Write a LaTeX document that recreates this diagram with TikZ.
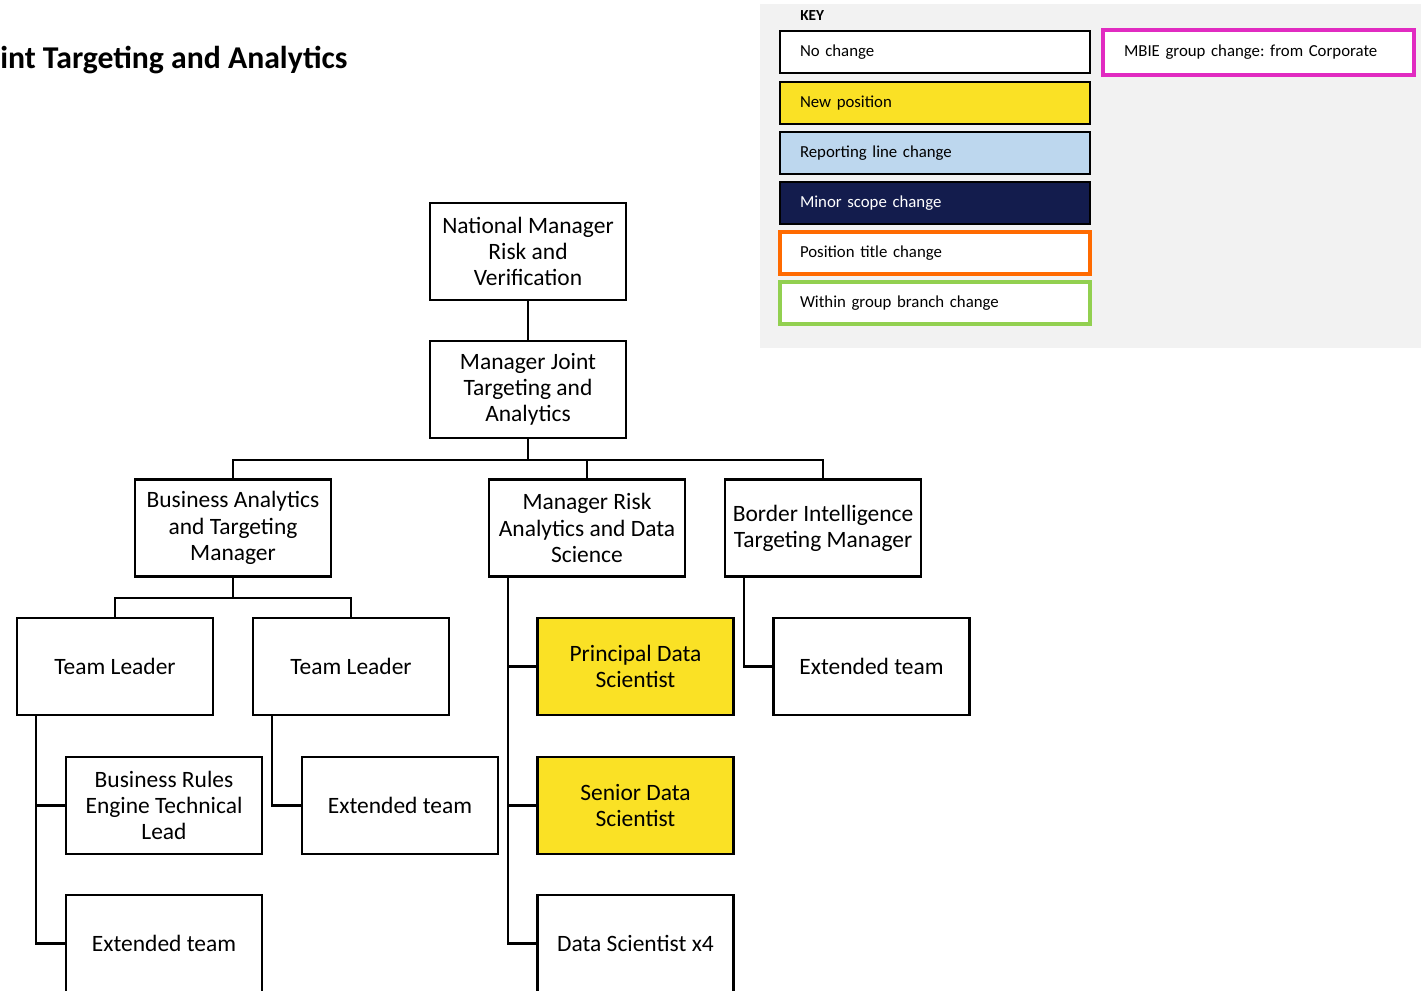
\documentclass[tikz,border=0pt]{standalone}
\usepackage{fontspec}
\setmainfont{Carlito}
\frenchspacing
\definecolor{newpos}{HTML}{FAE125}
\definecolor{repline}{HTML}{BDD7EE}
\definecolor{minorsc}{HTML}{131C4D}
\definecolor{titlech}{HTML}{FF6A00}
\definecolor{branchch}{HTML}{92D050}
\definecolor{mbiech}{HTML}{E12BC1}
\definecolor{keybg}{HTML}{F2F2F2}
\begin{document}
\begin{tikzpicture}[x=0.75pt,y=-0.75pt,
  posbox/.style={draw=black, line width=1.6pt, fill=white, minimum width=147pt,
    minimum height=72.75pt, align=center, inner sep=2pt,
    font=\fontsize{17.6}{19.6}\selectfont},
  newbox/.style={posbox, fill=newpos},
  link/.style={line width=1.6pt, draw=black},
  keybox/.style={draw=black, line width=1.6pt, fill=white, minimum height=31.5pt,
    text width=202.5pt, inner xsep=15pt, align=left,
    font=\fontsize{12.6}{14}\selectfont},
  accentbox/.style={keybox, line width=2.6pt},
]
\useasboundingbox (0,0) rectangle (1421,991);
\clip (0,0) rectangle (1421,991);

% heading
\node[anchor=west, inner sep=0pt, font=\bfseries\fontsize{23.8}{28}\selectfont] (title) at (0,60) {int Targeting and Analytics};

% key panel
\fill[keybg] (760,4) rectangle (1421,348);
\node[anchor=west, inner sep=0pt, font=\bfseries\fontsize{11.5}{13}\selectfont] (keylbl) at (800,16) {KEY};
\node[keybox] (k1) at (935,52) {No change};
\node[keybox, fill=newpos] (k2) at (935,103) {New position};
\node[keybox, fill=repline] (k3) at (935,153) {Reporting line change};
\node[keybox, fill=minorsc, text=white] (k4) at (935,203) {Minor scope change};
\node[accentbox, draw=titlech] (k5) at (935,253) {Position title change};
\node[accentbox, draw=branchch] (k6) at (935,303) {Within group branch change};
\node[accentbox, draw=mbiech, minimum height=33.75pt, inner xsep=15.75pt, text width=201.75pt] (k7) at (1258.5,52.5) {MBIE group change: from Corporate};

% positions
\node[posbox] (nm) at (528,251.5) {National Manager\\Risk and\\Verification};
\node[posbox] (mj) at (528,389.5) {Manager Joint\\Targeting and\\Analytics};
\node[posbox] (ba) at (233,528) {Business Analytics\\and Targeting\\Manager};
\node[posbox] (mr) at (587,528) {Manager Risk\\Analytics and Data\\Science};
\node[posbox] (bi) at (823,528) {Border Intelligence\\Targeting Manager};
\node[posbox] (tl1) at (115,666.5) {Team Leader};
\node[posbox] (tl2) at (351,666.5) {Team Leader};
\node[posbox] (br) at (164,805.5) {Business Rules\\Engine Technical\\Lead};
\node[posbox] (et2) at (400,805.5) {Extended team};
\node[posbox] (et1) at (164,943.5) {Extended team};
\node[newbox] (pds) at (635.5,666.5) {Principal Data\\Scientist};
\node[newbox] (sds) at (635.5,805.5) {Senior Data\\Scientist};
\node[posbox] (ds4) at (635.5,943.5) {Data Scientist x4};
\node[posbox] (et3) at (871.5,666.5) {Extended team};

% reporting lines
\draw[link] (nm) -- (mj);
\coordinate (bus) at (528,460);
\draw[link] (mj.south) -- (bus);
\draw[link] (ba.north) |- (bus) -| (bi.north);
\draw[link] (bus -| mr.north) -- (mr.north);

\coordinate (babus) at (233,598);
\draw[link] (ba.south) -- (babus);
\draw[link] (tl1.north) |- (babus) -| (tl2.north);

\draw[link] ([xshift=15pt]tl1.south west) |- (br.west);
\draw[link] ([xshift=15pt]tl1.south west) |- (et1.west);
\draw[link] ([xshift=15pt]tl2.south west) |- (et2.west);
\draw[link] ([xshift=15pt]mr.south west) |- (pds.west);
\draw[link] ([xshift=15pt]mr.south west) |- (sds.west);
\draw[link] ([xshift=15pt]mr.south west) |- (ds4.west);
\draw[link] ([xshift=15pt]bi.south west) |- (et3.west);
\end{tikzpicture}
\end{document}
